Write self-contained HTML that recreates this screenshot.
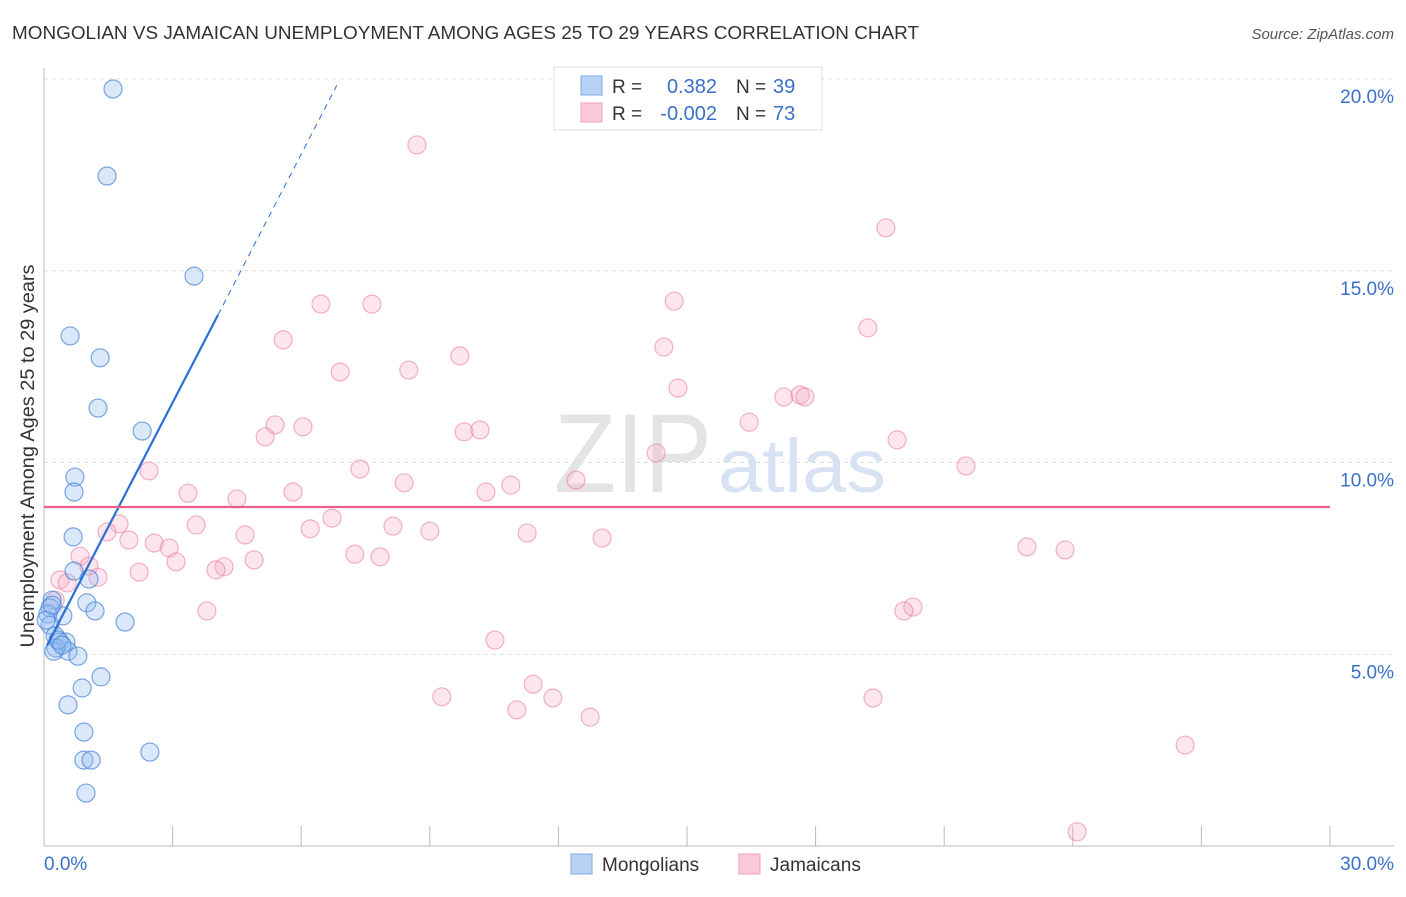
<!DOCTYPE html>
<html><head><meta charset="utf-8"><style>
body{margin:0;background:#fff;font-family:"Liberation Sans",sans-serif}
svg text{font-family:"Liberation Sans",sans-serif}
</style></head><body>
<svg id="chart" width="1406" height="892" xmlns="http://www.w3.org/2000/svg">
<text x="12" y="39" font-size="18.5" fill="#333" textLength="907" lengthAdjust="spacingAndGlyphs">MONGOLIAN VS JAMAICAN UNEMPLOYMENT AMONG AGES 25 TO 29 YEARS CORRELATION CHART</text>
<text x="1394" y="39" font-size="15" fill="#555" text-anchor="end" font-style="italic">Source: ZipAtlas.com</text>
<text x="712" y="492" font-size="112" fill="#e4e4e4" text-anchor="end" font-family="Liberation Serif" textLength="158" lengthAdjust="spacingAndGlyphs">ZIP</text>
<text x="718" y="492" font-size="76" fill="#d7e3f3" textLength="168" lengthAdjust="spacingAndGlyphs">atlas</text>
<g id="grid"></g>
<g id="axes"></g>
<g id="pts"></g>
<g id="trend"></g>
<text transform="translate(34,456) rotate(-90)" font-size="19" fill="#333" text-anchor="middle" textLength="383" lengthAdjust="spacingAndGlyphs">Unemployment Among Ages 25 to 29 years</text>
<g>
<rect x="554" y="67" width="268" height="63" fill="#fff" stroke="#ddd"/>
<rect x="581" y="76" width="21" height="19" fill="#b7d2f5" stroke="#7fa9e0"/>
<rect x="581" y="103" width="21" height="19" fill="#fac8d6" stroke="#f0a0b8"/>
<text x="612" y="93" font-size="19" fill="#333">R = </text><text x="717" y="93" font-size="20" fill="#3a70c8" text-anchor="end">0.382</text>
<text x="736" y="93" font-size="19" fill="#333">N = </text><text x="773" y="93" font-size="20" fill="#3a70c8">39</text>
<text x="612" y="120" font-size="19" fill="#333">R = </text><text x="717" y="120" font-size="20" fill="#3a70c8" text-anchor="end">-0.002</text>
<text x="736" y="120" font-size="19" fill="#333">N = </text><text x="773" y="120" font-size="20" fill="#3a70c8">73</text>
</g>
<g>
<rect x="571" y="854" width="21" height="20" fill="#b7d2f5" stroke="#7fa9e0"/>
<text x="602" y="871" font-size="19" fill="#333">Mongolians</text>
<rect x="739" y="854" width="21" height="20" fill="#fac8d6" stroke="#f0a0b8"/>
<text x="770" y="871" font-size="19" fill="#333">Jamaicans</text>
</g>
</svg>
<script>
const yTicks=[5,10,15,20];
const yTickLabels=["5.0%","10.0%","15.0%","20.0%"];
const xEndLabels=["0.0%","30.0%"];
const blueX=[1.61,1.47,3.50,0.61,1.31,1.26,2.29,0.72,0.70,0.68,0.70,1.05,1.00,1.19,0.44,1.89,0.19,0.14,0.09,0.14,0.26,0.37,0.51,0.56,0.79,0.28,0.23,1.33,0.89,0.56,0.93,0.93,1.10,2.47,0.98,0.05,0.19,0.33,0.42];
const blueY=[19.74,17.47,14.86,13.30,12.73,11.42,10.82,9.62,9.23,8.06,7.17,6.96,6.34,6.13,6.00,5.84,6.41,6.21,6.05,5.76,5.48,5.32,5.32,5.08,4.95,5.16,5.08,4.41,4.12,3.68,2.97,2.24,2.24,2.45,1.38,5.89,6.28,5.37,5.24];
const pinkX=[8.70,19.64,6.46,7.65,14.70,5.58,19.22,14.46,9.70,6.91,8.51,14.79,17.26,17.64,17.75,16.45,5.39,6.04,5.16,9.80,10.17,19.90,14.28,21.51,2.45,7.37,12.41,8.40,10.89,3.36,5.81,10.31,4.50,6.72,8.14,3.55,1.75,9.00,6.21,11.27,1.47,4.69,1.98,13.02,2.57,2.92,22.93,23.82,0.84,7.25,7.84,4.90,3.08,1.05,4.20,4.01,2.22,1.26,0.37,0.54,20.27,20.06,3.80,10.52,11.41,9.28,11.87,19.34,11.03,12.74,26.62,24.10,0.26];
const pinkY=[18.28,16.12,14.13,14.13,14.21,13.20,13.51,13.01,12.78,12.36,12.41,11.94,11.71,11.76,11.71,11.05,10.98,10.93,10.67,10.80,10.85,10.59,10.25,9.91,9.78,9.83,9.54,9.47,9.41,9.20,9.23,9.23,9.05,8.55,8.34,8.37,8.40,8.21,8.27,8.16,8.19,8.11,7.98,8.03,7.90,7.77,7.80,7.72,7.56,7.61,7.54,7.46,7.41,7.30,7.28,7.20,7.14,7.01,6.94,6.86,6.23,6.13,6.13,5.37,4.22,3.89,3.86,3.86,3.55,3.36,2.63,0.37,6.41];
const blueTrend=[5.08,2.16]; // intercept, slope
const pinkTrend=[8.84,0];
const NS="http://www.w3.org/2000/svg";
const sx=v=>44+v/30*1286, sy=v=>846-v/5*191.75;
function mk(tag,attrs,parent){const e=document.createElementNS(NS,tag);for(const k in attrs)e.setAttribute(k,attrs[k]);parent.appendChild(e);return e;}
const grid=document.getElementById('grid'),axes=document.getElementById('axes'),pts=document.getElementById('pts'),tr=document.getElementById('trend');
yTicks.forEach((t,i)=>{
 const l=mk('line',{x1:44,x2:1394,y1:sy(t),y2:sy(t),stroke:'#ddd','stroke-dasharray':'4,4'},grid);
 
 
 const tx=mk('text',{x:1394,y:sy(t)+24,'font-size':19,fill:'#3a70c8','text-anchor':'end'},axes);
 tx.textContent=yTickLabels[i];
 
 
});
const ax=mk('line',{x1:44,x2:1394,y1:846,y2:846,stroke:'#bbb'},axes);


const ay=mk('line',{x1:44,x2:44,y1:68,y2:846,stroke:'#bbb'},axes);


for(let i=1;i<=10;i++){const t=mk('line',{x1:sx(i*3),x2:sx(i*3),y1:826,y2:846,stroke:'#bbb'},axes);
 
 }
[[0,'start'],[30,'end']].forEach((d,i)=>{const t=mk('text',{x:i?1394:44,y:870,'font-size':19,fill:'#3a70c8','text-anchor':d[1]},axes);
 t.textContent=xEndLabels[i];
 
 });
pinkX.forEach((x,i)=>{const c=mk('circle',{cx:sx(x),cy:sy(pinkY[i]),r:9,fill:'rgba(246,170,195,0.3)',stroke:'rgba(232,120,155,0.55)','stroke-width':1.2},pts);
 
 });
blueX.forEach((x,i)=>{const c=mk('circle',{cx:sx(x),cy:sy(blueY[i]),r:9,fill:'rgba(150,190,240,0.35)',stroke:'rgba(70,130,215,0.7)','stroke-width':1.2},pts);
 
 });
const bf=x=>blueTrend[0]+blueTrend[1]*x;
const b1=mk('line',{x1:sx(0.07),y1:sy(bf(0.07)),x2:sx(4.06),y2:sy(bf(4.06)),stroke:'#2a6fd6','stroke-width':2.2},tr);


const b2=mk('line',{x1:sx(4.06),y1:sy(bf(4.06)),x2:sx(6.83),y2:sy(bf(6.83)),stroke:'#2a6fd6','stroke-width':1,'stroke-dasharray':'6,5'},tr);


const p=mk('line',{x1:sx(0),y1:sy(pinkTrend[0]),x2:sx(30),y2:sy(pinkTrend[0]+pinkTrend[1]*30),stroke:'#e8608a','stroke-width':2.2},tr);


</script>
</body></html>
